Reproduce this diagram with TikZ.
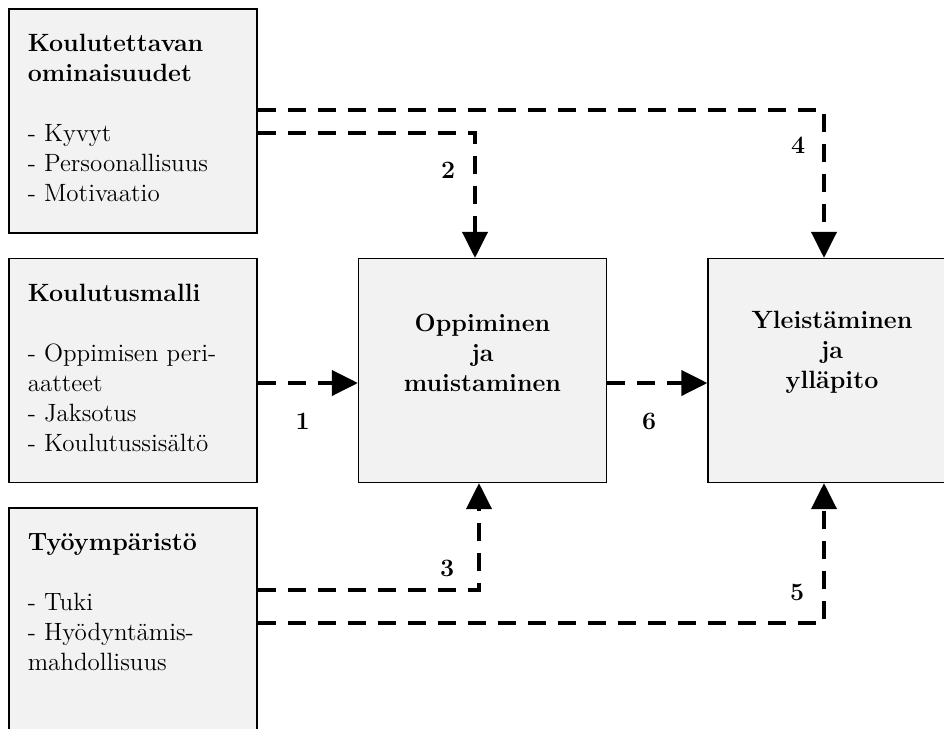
\documentclass[tikz,border=0pt]{standalone}
\usepackage{xcolor}
\usepackage{tikz}
\usetikzlibrary{arrows.meta, positioning}

\definecolor{boxgray}{HTML}{F2F2F2}

\begin{document}
\begin{tikzpicture}[x=0.5pt, y=-0.5pt, font=\fontsize{12.5}{15}\selectfont]
		\tikzstyle{box} = [draw=black, fill=boxgray, rectangle, line width=0.6pt, minimum width=124pt, minimum height=112pt, inner sep=0pt]
		\tikzstyle{sidetext} = [align=left, inner sep=0pt]
		\tikzstyle{midtext} = [align=center, inner sep=0pt, font=\fontsize{12.5}{15}\selectfont\bfseries]
		\tikzstyle{num} = [inner sep=0pt, font=\fontsize{12.5}{15}\selectfont\bfseries]
		\tikzstyle{arrow} = [line width=2pt, dash pattern=on 9pt off 6pt, -{Triangle[length=13pt, width=12.5pt]}]
		
		\useasboundingbox (0, 0) rectangle (944, 729);
		\clip (0, 0) rectangle (944, 729);
		
		% left column
		\node[box]	at (133, 121)	(k1)	{};
		\node[box]	at (133, 370.5)	(k2)	{};
		\node[box]	at (133, 620)	(k3)	{};
		
		% right blocks
		\node[box]	at (482.5, 370.5)	(opp)	{};
		\node[box]	at (832, 370.5)		(yle)	{};
		
		\node[sidetext, below right=12.8pt and 9.5pt of k1.north west] (k1t)
			{\textbf{Koulutettavan}\\\textbf{ominaisuudet}\\[15pt]- Kyvyt\\- Persoonallisuus\\- Motivaatio};
		\node[sidetext, below right=12.8pt and 9.5pt of k2.north west] (k2t)
			{\textbf{Koulutusmalli}\\[15pt]- Oppimisen peri-\\aatteet\\- Jaksotus\\- Koulutussisältö};
		\node[sidetext, below right=12.8pt and 9.5pt of k3.north west] (k3t)
			{\textbf{Työympäristö}\\[15pt]- Tuki\\- Hyödyntämis-\\mahdollisuus};
		
		\node[midtext]	at ([yshift=9pt]opp.center)	(oppt)	{Oppiminen\\ja\\muistaminen};
		\node[midtext]	at ([yshift=9pt]yle.center)	(ylet)	{Yleistäminen\\ja\\ylläpito};
		
		\draw [arrow] ([yshift=5.5pt]k1.east) -| ([xshift=-4pt]yle.north) node[num, pos=.62, left=8.4pt] {4};
		\draw [arrow] ([yshift=-6pt]k1.east) -| ([xshift=-3.75pt]opp.north) node[num, pos=.65, left=8.9pt] {2};
		
		\draw [arrow] ([yshift=-6.25pt]k2.east) -- ([yshift=-6.25pt]opp.west) node[num, pos=.45, below=14pt] {1};
		\draw [arrow] ([yshift=-6.25pt]opp.east) -- ([yshift=-6.25pt]yle.west) node[num, pos=.42, below=14pt] {6};
		
		\draw [arrow] ([yshift=15pt]k3.east) -| ([xshift=-1.75pt]opp.south) node[num, pos=.6, left=11.4pt] {3};
		\draw [arrow] ([yshift=-1.5pt]k3.east) -| ([xshift=-4pt]yle.south) node[num, pos=.61, left=8.9pt] {5};
	\end{tikzpicture}
\end{document}
